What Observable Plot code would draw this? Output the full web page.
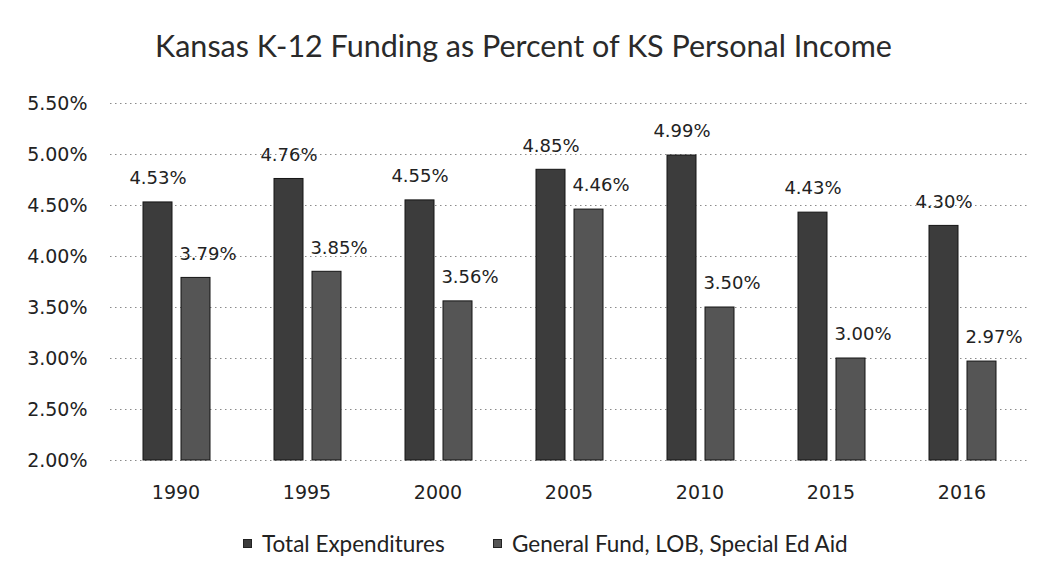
<!DOCTYPE html>
<html>
<head>
<meta charset="utf-8">
<script src="https://cdn.jsdelivr.net/npm/d3@7"></script>
<script src="https://cdn.jsdelivr.net/npm/@observablehq/plot@0.6"></script>
<style>
  html, body { margin: 0; padding: 0; background: #fff; }
  #wrap { width: 1047px; height: 575px; position: relative; overflow: hidden; }
  #title { height: 80px; box-sizing: border-box; padding-top: 10px; display: flex; align-items: center; justify-content: center;
           font-family: Lato, "Open Sans", sans-serif; font-size: 30.5px; color: #2a2a2a; }
  #chart svg { display: block; }
  #legend { position: relative; height: 65px; font-family: Lato, "Open Sans", sans-serif; font-size: 22.5px; color: #222; }
  .item { position: absolute; top: 20px; height: 26px; display: flex; align-items: center; white-space: nowrap; }
  .sw { width: 9px; height: 9px; margin-right: 10px; border: 1px solid #222; box-sizing: border-box; }
</style>
</head>
<body>
<div id="wrap">
  <div id="title">Kansas K-12 Funding as Percent of KS Personal Income</div>
  <div id="chart"></div>
  <div id="legend"></div>
</div>
<script>
// ---- data ----
const years = ["1990", "1995", "2000", "2005", "2010", "2015", "2016"];
const totalExpenditures = [4.53, 4.76, 4.55, 4.85, 4.99, 4.43, 4.30];
const generalFundLobSpecialEd = [3.79, 3.85, 3.56, 4.46, 3.50, 3.00, 2.97];
const seriesNames = ["Total Expenditures", "General Fund, LOB, Special Ed Aid"];
const yTicks = [2.0, 2.5, 3.0, 3.5, 4.0, 4.5, 5.0, 5.5];
const yDomain = [2.0, 5.5];

const colors = ["#3c3c3c", "#555555"];
const totalRows = years.map((y, i) => ({year: y, series: seriesNames[0], value: totalExpenditures[i]}));
const generalRows = years.map((y, i) => ({year: y, series: seriesNames[1], value: generalFundLobSpecialEd[i]}));
const pct = v => v.toFixed(2) + "%";

const chart = Plot.plot({
  width: 1047,
  height: 430,
  marginLeft: 110,
  marginRight: 20,
  marginTop: 23,
  marginBottom: 50,
  style: {fontFamily: "DejaVu Sans, Verdana, sans-serif", fontSize: "19px", color: "#222", background: "#fff"},
  x: {domain: years, padding: 0, label: null},
  y: {domain: yDomain, label: null},
  marks: [
    Plot.ruleY(yTicks, {stroke: "#8a8a8a", strokeDasharray: "1.5,3.5", strokeWidth: 1}),
    Plot.barY(totalRows, {x: "year", y1: yDomain[0], y2: "value", fill: colors[0], stroke: "#151515", strokeWidth: 1, insetLeft: 33, insetRight: 69}),
    Plot.barY(generalRows, {x: "year", y1: yDomain[0], y2: "value", fill: colors[1], stroke: "#151515", strokeWidth: 1, insetLeft: 71, insetRight: 31}),
    Plot.text(totalRows, {x: "year", y: "value", text: d => pct(d.value), dx: -18, dy: -24, lineAnchor: "middle", fontSize: 18, fill: "#222"}),
    Plot.text(generalRows, {x: "year", y: "value", text: d => pct(d.value), dx: 32, dy: -24, lineAnchor: "middle", fontSize: 18, fill: "#222"}),
    Plot.axisY(yTicks, {tickSize: 0, tickPadding: 23, tickFormat: pct, fontSize: 19}),
    Plot.axisX({tickSize: 0, tickPadding: 25, fontSize: 19})
  ]
});
document.getElementById("chart").appendChild(chart);

// ---- legend ----
const legendLeft = [243, 493];
const legend = document.getElementById("legend");
seriesNames.forEach((name, i) => {
  const item = document.createElement("div");
  item.className = "item";
  item.style.left = legendLeft[i] + "px";
  const sw = document.createElement("span");
  sw.className = "sw";
  sw.style.background = colors[i];
  const t = document.createElement("span");
  t.textContent = name;
  item.appendChild(sw);
  item.appendChild(t);
  legend.appendChild(item);
});
</script>
</body>
</html>
